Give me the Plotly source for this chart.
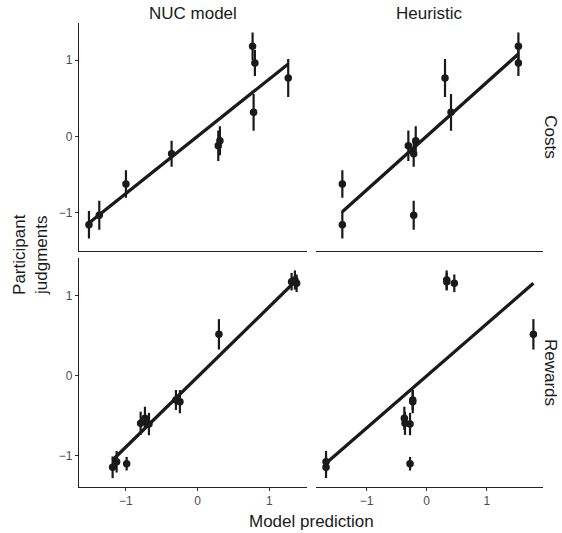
import plotly.graph_objects as go
import numpy as np

W, H = 562, 533

# ---------------- data ----------------
models = ["NUC model", "Heuristic"]
conditions = ["Costs", "Rewards"]

# Costs row
costs_y = [-1.157, -1.035, -0.624, -0.227, -0.122, -0.056, 1.18, 0.962, 0.315, 0.765]
costs_err = [0.18, 0.19, 0.18, 0.17, 0.20, 0.19, 0.18, 0.17, 0.24, 0.25]
costs_nuc_x = [-1.516, -1.372, -1.0, -0.363, 0.288, 0.311, 0.767, 0.799, 0.781, 1.264]
costs_heur_x = [-1.406, -0.217, -1.406, -0.217, -0.306, -0.183, 1.528, 1.528, 0.405, 0.305]

# Rewards row
rewards_y = [-1.145, -1.075, -1.10, -0.595, -0.533, -0.604, -0.304, -0.325, 0.517, 1.175, 1.196, 1.155]
rewards_err = [0.135, 0.135, 0.085, 0.145, 0.145, 0.14, 0.125, 0.145, 0.19, 0.11, 0.12, 0.11]
rewards_nuc_x = [-1.186, -1.13, -0.99, -0.795, -0.735, -0.679, -0.303, -0.247, 0.297, 1.311, 1.357, 1.381]
rewards_heur_x = [-1.678, -1.678, -0.278, -0.362, -0.373, -0.278, -0.233, -0.233, 1.778, 0.333, 0.333, 0.46]

# linear fits (slope, intercept) per panel: [NUC, Heuristic]
costs_fit_slope = [0.750, 0.705]
costs_fit_intercept = [0.001, 0.003]
rewards_fit_slope = [0.876, 0.651]
rewards_fit_intercept = [-0.014, -0.003]

tick_vals = [-1, 0, 1]
tick_text = ["\u22121", "0", "1"]

# ---------------- layout geometry ----------------
col_px = [(79, 307), (316, 543)]
row_px = [(22.7, 250.7), (258, 487)]
x_ranges = [[-1.655, 1.526], [-1.845, 1.938]]
y_ranges = [[-1.498, 1.489], [-1.391, 1.471]]

INK = "#1a1a1a"
FONT = "Liberation Sans, Arial, Helvetica, sans-serif"

fig = go.Figure()

panels = [
    (0, 0, costs_nuc_x, costs_y, costs_err, costs_fit_slope[0], costs_fit_intercept[0]),
    (0, 1, costs_heur_x, costs_y, costs_err, costs_fit_slope[1], costs_fit_intercept[1]),
    (1, 0, rewards_nuc_x, rewards_y, rewards_err, rewards_fit_slope[0], rewards_fit_intercept[0]),
    (1, 1, rewards_heur_x, rewards_y, rewards_err, rewards_fit_slope[1], rewards_fit_intercept[1]),
]

for r, c, xs, ys, es, slope, icpt in panels:
    idx = r * 2 + c + 1
    xa = "x" if idx == 1 else f"x{idx}"
    ya = "y" if idx == 1 else f"y{idx}"
    fig.add_trace(go.Scatter(
        x=xs, y=ys, mode="markers", xaxis=xa, yaxis=ya,
        marker=dict(size=7.5, color=INK),
        error_y=dict(type="data", array=es, visible=True, thickness=2.2, width=0, color=INK),
        showlegend=False, hoverinfo="skip"))
    lx = np.array([min(xs), max(xs)])
    fig.add_trace(go.Scatter(
        x=lx, y=slope * lx + icpt, mode="lines", xaxis=xa, yaxis=ya,
        line=dict(color=INK, width=3.3), showlegend=False, hoverinfo="skip"))

layout = dict(
    width=W, height=H,
    margin=dict(l=0, r=0, t=0, b=0),
    paper_bgcolor="white", plot_bgcolor="white",
    font=dict(family=FONT, color=INK),
    showlegend=False,
)

for r in range(2):
    for c in range(2):
        idx = r * 2 + c + 1
        xkey = "xaxis" if idx == 1 else f"xaxis{idx}"
        ykey = "yaxis" if idx == 1 else f"yaxis{idx}"
        xa_anchor = "y" if idx == 1 else f"y{idx}"
        ya_anchor = "x" if idx == 1 else f"x{idx}"
        bottom = (r == 1)
        left = (c == 0)
        layout[xkey] = dict(
            domain=[col_px[c][0] / W, col_px[c][1] / W],
            range=x_ranges[c], anchor=xa_anchor,
            showgrid=False, zeroline=False,
            showline=True, linecolor="#222222", linewidth=1.1,
            ticks="outside" if bottom else "", ticklen=3, tickwidth=1, tickcolor="#333333",
            tickvals=tick_vals, ticktext=tick_text,
            showticklabels=bottom,
            tickfont=dict(size=12, color="#4d4d4d", family=FONT),
        )
        layout[ykey] = dict(
            domain=[1 - row_px[r][1] / H, 1 - row_px[r][0] / H],
            range=y_ranges[r], anchor=ya_anchor,
            showgrid=False, zeroline=False,
            showline=left, linecolor="#222222", linewidth=1.1,
            ticks="outside" if left else "", ticklen=3, tickwidth=1, tickcolor="#333333",
            tickvals=tick_vals, ticktext=tick_text,
            showticklabels=left,
            tickfont=dict(size=12, color="#4d4d4d", family=FONT),
        )

fig.update_layout(**layout)

ann_font = dict(family=FONT, size=17, color=INK)
annotations = []
for c, name in enumerate(models):
    annotations.append(dict(
        text=name, x=(col_px[c][0] + col_px[c][1]) / 2 / W, y=1 - 13.5 / H,
        xref="paper", yref="paper", xanchor="center", yanchor="middle",
        showarrow=False, font=ann_font))
for r, name in enumerate(conditions):
    annotations.append(dict(
        text=name, x=1.0, y=1 - (row_px[r][0] + row_px[r][1]) / 2 / H,
        xref="paper", yref="paper", xanchor="right", yanchor="middle",
        textangle=90, showarrow=False, font=ann_font))
annotations.append(dict(
    text="Participant<br>judgments", x=31 / W, y=1 - 255 / H,
    xref="paper", yref="paper", xanchor="center", yanchor="middle",
    textangle=-90, showarrow=False, font=ann_font))
annotations.append(dict(
    text="Model prediction", x=311 / W, y=0.0,
    xref="paper", yref="paper", xanchor="center", yanchor="bottom",
    showarrow=False, font=ann_font))
fig.update_layout(annotations=annotations)

fig.write_html(
    "out.html",
    config={"displayModeBar": False},
    post_script="document.body.style.margin='0px';document.body.style.overflow='hidden';",
)
